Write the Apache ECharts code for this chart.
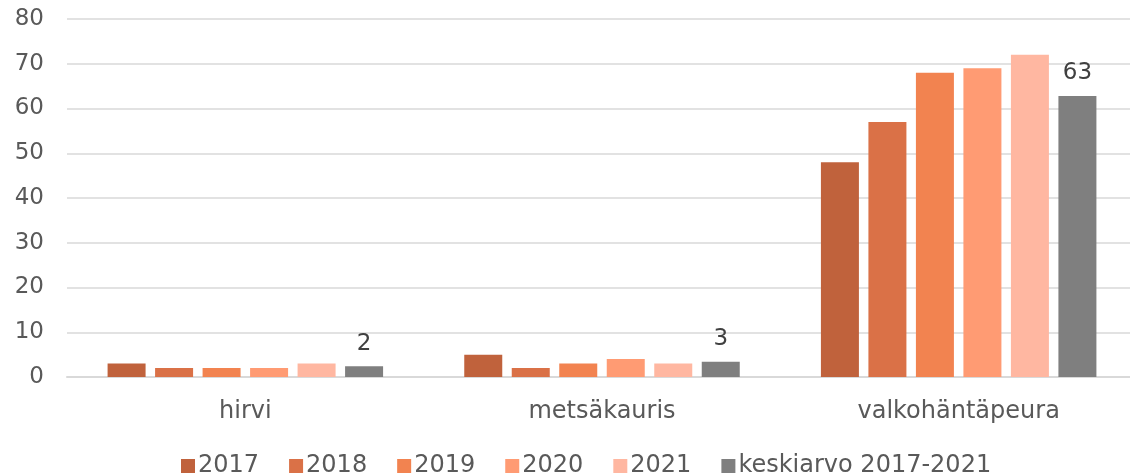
<!DOCTYPE html>
<html>
<head>
    <meta charset="utf-8">
    <script src="https://cdn.jsdelivr.net/npm/echarts@6/dist/echarts.min.js"></script>
    <style>
        body { margin: 0; background: #fff; overflow: hidden; }
        #main { width: 1137px; height: 475px; }
    </style>
</head>
<body>
<div id="main"></div>
<script type="text/javascript">
    // lajit ja vuodet
    var categories = ['hirvi', 'metsäkauris', 'valkohäntäpeura'];
    var seriesNames = ['2017', '2018', '2019', '2020', '2021', 'keskiarvo 2017-2021'];
    var v2017 = [3, 5, 48];
    var v2018 = [2, 2, 57];
    var v2019 = [2, 3, 68];
    var v2020 = [2, 4, 69];
    var v2021 = [3, 3, 72];
    var keskiarvo = [2.4, 3.4, 62.8];
    var colors = ['#C0623C', '#DA7147', '#F28350', '#FF9B73', '#FFB7A1', '#7F7F7F'];

    var allData = [v2017, v2018, v2019, v2020, v2021, keskiarvo];
    var font = 'DejaVu Sans, Verdana, sans-serif';

    var series = [];
    for (let i = 0; i < allData.length; i++) {
        let s = {
            name: seriesNames[i],
            type: 'bar',
            data: allData[i],
            barWidth: 38,
            barGap: '25%',
            itemStyle: { color: colors[i] }
        };
        if (i === allData.length - 1) {
            // vain keskiarvolle arvot näkyviin
            s.label = {
                show: true,
                position: 'top',
                distance: 11,
                color: '#404040',
                fontFamily: font,
                fontSize: 23,
                formatter: function (p) { return Math.round(p.value); }
            };
        }
        series.push(s);
    }

    var myChart = echarts.init(document.getElementById('main'));
    var option = {
        animation: false,
        color: colors,
        grid: { left: 67, right: 0, top: 19, bottom: 98, containLabel: false },
        legend: {
            left: 176,
            top: 449,
            itemWidth: 14,
            itemHeight: 14,
            itemGap: 30,
            icon: 'rect',
            textStyle: { color: '#595959', fontFamily: font, fontSize: 24, padding: [0, 0, 0, -2] },
            data: seriesNames
        },
        xAxis: {
            type: 'category',
            data: categories,
            axisLine: { lineStyle: { color: '#d9d9d9', width: 2 } },
            axisTick: { show: false },
            axisLabel: { color: '#595959', fontFamily: font, fontSize: 24, margin: 23 }
        },
        yAxis: {
            type: 'value',
            min: 0,
            max: 80,
            interval: 10,
            axisLine: { show: false },
            axisTick: { show: false },
            axisLabel: { color: '#595959', fontFamily: font, fontSize: 23, margin: 23 },
            splitLine: { lineStyle: { color: '#d9d9d9', width: 1.5 } }
        },
        series: series
    };
    myChart.setOption(option);
</script>
</body>
</html>
